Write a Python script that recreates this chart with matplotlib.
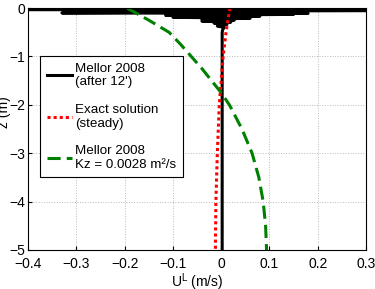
import numpy as np
import matplotlib.pyplot as plt

plt.rcParams['font.family'] = ['Liberation Sans', 'DejaVu Sans']

# Mellor 2008 (after 12') - noisy profile near the surface
z_mellor = [0, -0.01, -0.02, -0.03, -0.04, -0.06, -0.08, -0.10, -0.11, -0.12, -0.13, -0.15, -0.17,
            -0.19, -0.21, -0.23, -0.25, -0.27, -0.29, -0.31, -0.34, -0.37, -0.40, -0.45, -0.5,
            -1, -2, -3, -4, -5]
u_mellor = [1.0, -1.0, 1.0, -1.0, 1.0, -0.02, 0.0, -0.33, 0.18, -0.08, 0.15, -0.115, 0.08,
            -0.10, 0.06, -0.04, 0.027, -0.04, 0.02, -0.015, 0.012, -0.008, 0.006, 0.003, 0.002,
            0.002, 0.002, 0.002, 0.002, 0.002]

# Exact solution (steady)
z_exact = [0, -0.25, -0.5, -1, -1.5, -2, -2.5, -3, -4, -5]
u_exact = [0.018, 0.014, 0.010, 0.004, 0.0, -0.004, -0.006, -0.008, -0.011, -0.012]

# Mellor 2008 with Kz = 0.0028
z_kz = [0, -0.25, -0.5, -0.75, -1, -1.25, -1.5, -1.75, -2, -2.5, -3, -3.5, -4, -4.5, -5]
u_kz = [-0.195, -0.15, -0.108, -0.084, -0.062, -0.04, -0.02, 0.0, 0.017, 0.043, 0.064, 0.078,
        0.087, 0.092, 0.094]

fig = plt.figure(figsize=(3.75, 2.89), dpi=100)
ax = fig.add_axes([0.075, 0.135, 0.901, 0.837])

ax.plot(u_mellor, z_mellor, color='black', lw=2.2, label="Mellor 2008\n(after 12')")
ax.plot(u_exact, z_exact, color='red', lw=2.2, ls=(0, (1, 1)), label='Exact solution\n(steady)')
ax.plot(u_kz, z_kz, color='green', lw=2.2, ls=(0, (4.3, 2)), label='Mellor 2008\nKz = 0.0028 m²/s')

ax.set_xlim(-0.4, 0.3)
ax.set_ylim(-5, 0)
ax.set_xticks([-0.4, -0.3, -0.2, -0.1, 0, 0.1, 0.2, 0.3])
ax.set_xticklabels(['\u22120.4', '\u22120.3', '\u22120.2', '\u22120.1', '0', '0.1', '0.2', '0.3'])
ax.set_yticks([-5, -4, -3, -2, -1, 0])
ax.set_yticklabels(['\u22125', '\u22124', '\u22123', '\u22122', '\u22121', '0'])
ax.tick_params(direction='in', labelsize=10, length=3, width=0.8)
ax.tick_params(axis='x', pad=5)
ax.tick_params(axis='y', pad=2)
ax.grid(True, ls=':', color='#b8b8b8', lw=0.7)
for s in ax.spines.values():
    s.set_linewidth(0.8)
ax.set_xlabel('U$^{\\mathregular{L}}$ (m/s)', fontsize=10, labelpad=0.5)
ax.set_ylabel('z (m)', fontsize=10)
ax.yaxis.set_label_coords(-0.052, 0.57)

leg = ax.legend(loc='upper left', bbox_to_anchor=(0.0355, 0.802), borderaxespad=0, fontsize=9.6,
                handlelength=1.9, frameon=True, fancybox=False, edgecolor='black', framealpha=1,
                borderpad=0.5, labelspacing=1.15, handletextpad=0.2)
leg.get_frame().set_linewidth(0.8)
for t in leg.get_texts():
    t.set_linespacing(1.2)

fig.savefig('out.png', dpi=100)
